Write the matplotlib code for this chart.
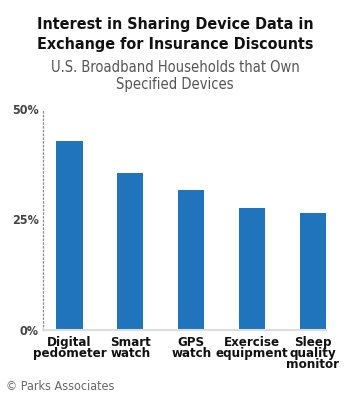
import matplotlib.pyplot as plt
from matplotlib.ticker import FixedLocator

categories = ['Digital\npedometer', 'Smart\nwatch', 'GPS\nwatch', 'Exercise\nequipment', 'Sleep\nquality\nmonitor']
values = [42.8, 35.5, 31.7, 27.7, 26.4]
yticks = [0, 25, 50]
ytick_labels = ['0%', '25%', '50%']

plt.rcParams['font.family'] = ['DejaVu Sans']
plt.rcParams['font.stretch'] = 'condensed'

fig = plt.figure(figsize=(3.5, 4.01), dpi=100)
ax = fig.add_axes([42.7 / 350, 1 - 330 / 401, (326 - 42.7) / 350, 221 / 401])

x = list(range(len(categories)))
ax.bar(x, values, width=0.43, color='#1f74bb')
ax.set_xlim(-0.44, 4.215)
ax.set_ylim(0, 50)

ax.set_xticks(x)
ax.set_xticklabels(categories, fontsize=9.5, fontweight='bold', color='#111111', linespacing=0.82, va='top')
ax.yaxis.set_major_locator(FixedLocator(yticks))
ax.set_yticklabels(ytick_labels, fontsize=9, fontweight='bold', color='#444444')
ax.tick_params(axis='both', length=0, pad=3)
ax.tick_params(axis='x', pad=4)

for s in ['top', 'right']:
    ax.spines[s].set_visible(False)
ax.spines['left'].set_linestyle((0, (1, 2)))
ax.spines['left'].set_color('#888888')
ax.spines['left'].set_linewidth(0.9)
ax.spines['bottom'].set_color('#dddddd')
ax.spines['bottom'].set_linewidth(1.5)

fig.text(0.5, 1 - 25 / 401, 'Interest in Sharing Device Data in', ha='center', va='center',
         fontsize=11.5, fontweight='bold', color='#111111')
fig.text(0.5, 1 - 45 / 401, 'Exchange for Insurance Discounts', ha='center', va='center',
         fontsize=11.5, fontweight='bold', color='#111111')
fig.text(0.5, 1 - 68 / 401, 'U.S. Broadband Households that Own', ha='center', va='center',
         fontsize=10.5, color='#555555')
fig.text(0.5, 1 - 84 / 401, 'Specified Devices', ha='center', va='center',
         fontsize=10.5, color='#555555')
fig.text(6 / 350, 1 - 387 / 401, '\u00a9 Parks Associates', ha='left', va='center',
         fontsize=9, color='#666666')

fig.savefig('out.png', dpi=100)
